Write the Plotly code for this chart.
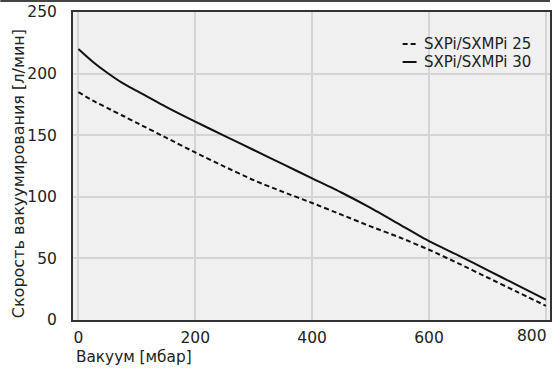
import plotly.graph_objects as go

vacuum = [0, 25, 50, 75, 100, 150, 200, 250, 300, 350, 400, 450, 500, 550, 600, 650, 700, 750, 800]
speed_25 = [185, 178, 172, 166, 160, 148, 136, 124.5, 113.5, 104, 95, 85.5, 76, 67, 57, 46, 34.5, 23, 11.5]
speed_30 = [220, 209.5, 200.5, 192.5, 186, 173, 161, 149.5, 138, 126.5, 115, 103.5, 91, 77.5, 64, 52.5, 40.5, 28.5, 16.5]
names = ["SXPi/SXMPi 25", "SXPi/SXMPi 30"]
x_ticks = [0, 200, 400, 600, 800]
y_ticks = [0, 50, 100, 150, 200, 250]

W, H = 552, 371
L, R, T, B = 73, 0, 12, 51
PW, PH = W - L - R, H - T - B

def px(xp):
    return (xp - L) / PW

def py(yp):
    return (T + PH - yp) / PH

fig = go.Figure()
fig.add_trace(go.Scatter(x=vacuum, y=speed_25, mode="lines", name=names[0],
                         line=dict(color="#111111", width=2, dash="5px,3px", shape="spline", smoothing=0.6)))
fig.add_trace(go.Scatter(x=vacuum, y=speed_30, mode="lines", name=names[1],
                         line=dict(color="#111111", width=2, shape="spline", smoothing=0.6)))

tick_font = dict(family="DejaVu Sans", size=15.5, color="#222222")
xt_font = dict(family="DejaVu Sans", size=15.3, color="#222222")
yt_font = dict(family="DejaVu Sans", size=16, color="#222222")
leg_font = dict(family="DejaVu Sans", size=15, color="#222222")

annotations = [
    dict(text="Вакуум [мбар]", xref="paper", yref="paper", x=px(74), y=py(357),
         xanchor="left", yanchor="middle", showarrow=False, font=xt_font),
    dict(text="Скорость вакуумирования [л/мин]", xref="paper", yref="paper",
         x=px(18), y=py(174), xanchor="center", yanchor="middle", textangle=-90,
         showarrow=False, font=yt_font),
    dict(text=str(x_ticks[-1]), xref="paper", yref="paper", x=px(551), y=py(336),
         xanchor="right", yanchor="middle", showarrow=False, font=tick_font),
]
shapes = [
    dict(type="line", xref="paper", yref="paper", x0=-L / PW, x1=1, y0=py(1), y1=py(1),
         line=dict(color="#444444", width=2)),
]
legend_rows = [(names[0], 44, "5px,3px"), (names[1], 62, "solid")]
for label, yc, dash in legend_rows:
    annotations.append(dict(text=label, xref="paper", yref="paper", x=px(423), y=py(yc),
                            xanchor="left", yanchor="middle", showarrow=False, font=leg_font))
    shapes.append(dict(type="line", xref="paper", yref="paper", x0=px(404), x1=px(418),
                       y0=py(yc), y1=py(yc), line=dict(color="#111111", width=2, dash=dash)))

fig.update_layout(
    width=W, height=H,
    margin=dict(l=L, r=R, t=T, b=B, pad=0),
    paper_bgcolor="white", plot_bgcolor="#f0f0f0",
    font=tick_font,
    showlegend=False,
    xaxis=dict(range=[-9.2, 807], tickvals=x_ticks, ticktext=[str(v) for v in x_ticks[:-1]] + [""],
               showgrid=True, gridcolor="#d4d4d4", gridwidth=2, tickfont=tick_font,
               zeroline=False, showline=True, linecolor="#333333", linewidth=2, mirror=True,
               ticks="", ticklabelstandoff=2),
    yaxis=dict(range=[0, 250], tickvals=y_ticks, showgrid=True, gridcolor="#d4d4d4", gridwidth=2,
               tickfont=tick_font,
               zeroline=False, showline=True, linecolor="#333333", linewidth=2, mirror=True,
               ticks="", ticklabelstandoff=11),
    annotations=annotations,
    shapes=shapes,
)

fig.write_html("out.html", config={"displayModeBar": False},
               post_script="document.body.style.margin='0';document.body.style.overflow='hidden';")
